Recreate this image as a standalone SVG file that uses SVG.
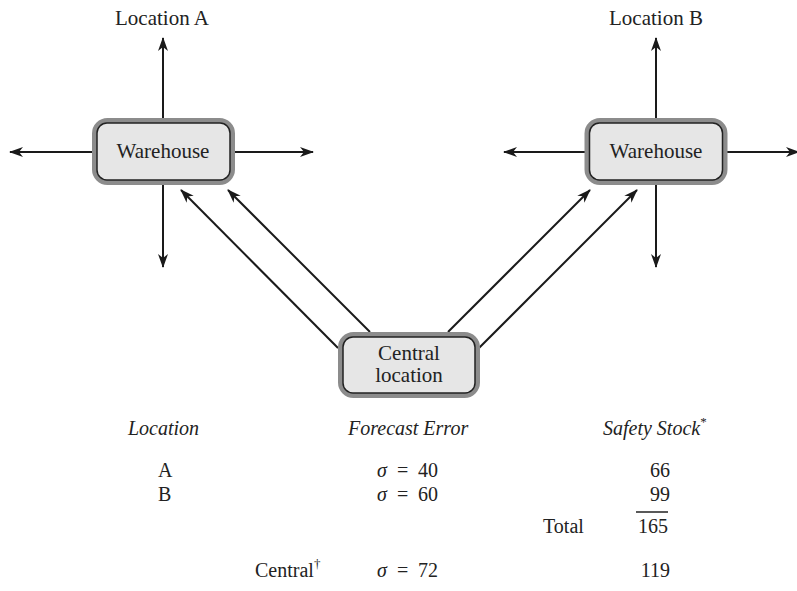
<svg xmlns="http://www.w3.org/2000/svg" width="797" height="591" viewBox="0 0 797 591">
  <defs>
    <marker id="ah" viewBox="0 0 14 10" refX="13" refY="5" markerWidth="14" markerHeight="10" markerUnits="userSpaceOnUse" orient="auto">
      <path d="M0,0 L14,5 L0,10 L4,5 z" fill="#1a1a1a"/>
    </marker>
  </defs>
  <style>
    .t { font-family: "Liberation Serif", "Times New Roman", serif; font-size: 21px; fill: #222; }
    .tb { font-family: "Liberation Serif", "Times New Roman", serif; font-size: 20px; fill: #222; }
    .it { font-style: italic; }
    .c { stroke: #1a1a1a; stroke-width: 2; fill: none; marker-end: url(#ah); }
    .outer { fill: #e6e6e6; stroke: #8c8c8c; stroke-width: 5; }
    .inner { fill: #e6e6e6; stroke: #222; stroke-width: 1.5; }
  </style>
  <rect width="797" height="591" fill="#fff"/>

  <g id="connectors">
    <line class="c" x1="163" y1="120" x2="163" y2="38"/>
    <line class="c" x1="94" y1="152" x2="10" y2="152"/>
    <line class="c" x1="233" y1="152" x2="313" y2="152"/>
    <line class="c" x1="163" y1="183" x2="163" y2="267"/>
    <line class="c" x1="656" y1="120" x2="656" y2="38"/>
    <line class="c" x1="589" y1="152" x2="504" y2="152"/>
    <line class="c" x1="723" y1="152" x2="799" y2="152"/>
    <line class="c" x1="656" y1="183" x2="656" y2="267"/>
    <line class="c" x1="338" y1="348" x2="181" y2="190"/>
    <line class="c" x1="370" y1="332" x2="228" y2="190"/>
    <line class="c" x1="448" y1="332" x2="590" y2="190"/>
    <line class="c" x1="479" y1="348" x2="637" y2="190"/>
  </g>

  <g id="warehouseA">
    <rect class="outer" x="94.5" y="120.5" width="138" height="62" rx="13"/>
    <rect class="inner" x="97" y="123" width="133" height="57" rx="10"/>
    <text class="t" x="163" y="158" text-anchor="middle">Warehouse</text>
  </g>
  <g id="warehouseB">
    <rect class="outer" x="587" y="120.5" width="138" height="62" rx="13"/>
    <rect class="inner" x="589.5" y="123" width="133" height="57" rx="10"/>
    <text class="t" x="656" y="158" text-anchor="middle">Warehouse</text>
  </g>
  <g id="central">
    <rect class="outer" x="340.5" y="334.5" width="137" height="61" rx="13"/>
    <rect class="inner" x="343" y="337" width="132" height="56" rx="10"/>
    <text class="t" x="409" y="360" text-anchor="middle">Central</text>
    <text class="t" x="409" y="382" text-anchor="middle">location</text>
  </g>
  <g id="labelA">
    <text class="t" x="162" y="25" text-anchor="middle">Location A</text>
  </g>
  <g id="labelB">
    <text class="t" x="656" y="25" text-anchor="middle">Location B</text>
  </g>

  <g id="table">
    <text class="tb it" x="128" y="435">Location</text>
    <text class="tb it" x="348" y="435">Forecast Error</text>
    <text class="tb it" x="603" y="435">Safety Stock<tspan font-style="normal" font-size="13" dy="-9">*</tspan></text>

    <text class="tb" x="158" y="477">A</text>
    <text class="tb" x="158" y="501">B</text>

    <text class="tb it" x="377" y="477">σ</text>
    <text class="tb" x="397" y="477">=</text>
    <text class="tb" x="418" y="477">40</text>
    <text class="tb it" x="377" y="501">σ</text>
    <text class="tb" x="397" y="501">=</text>
    <text class="tb" x="418" y="501">60</text>

    <text class="tb" x="670" y="477" text-anchor="end">66</text>
    <text class="tb" x="670" y="501" text-anchor="end">99</text>
    <line x1="636" y1="512" x2="668" y2="512" stroke="#222" stroke-width="1.5"/>
    <text class="tb" x="543" y="533">Total</text>
    <text class="tb" x="668" y="533" text-anchor="end">165</text>

    <text class="tb" x="255" y="577">Central<tspan font-size="13" dy="-9">†</tspan></text>
    <text class="tb it" x="377" y="577">σ</text>
    <text class="tb" x="397" y="577">=</text>
    <text class="tb" x="418" y="577">72</text>
    <text class="tb" x="670" y="577" text-anchor="end">119</text>
  </g>
</svg>
